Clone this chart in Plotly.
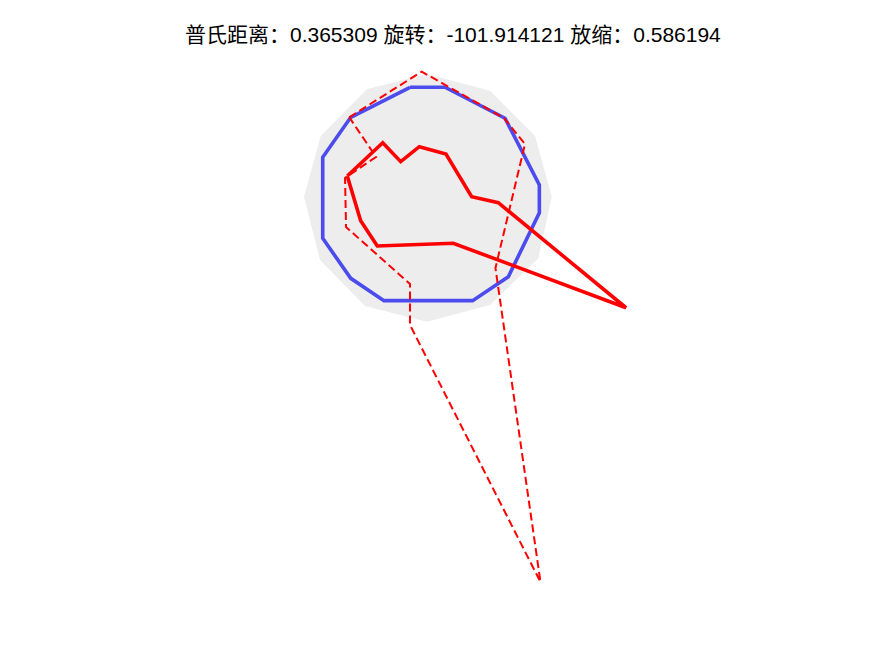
import plotly.graph_objects as go

# Target shape (gray filled 12-gon)
gray_x = [-0.494, -0.010, 0.500, 0.863, 0.998, 0.890, 0.500, -0.010, -0.508, -0.871, -1.000, -0.865]
gray_y = [0.877, 1.000, 0.865, 0.500, 0.010, -0.486, -0.863, -0.998, -0.871, -0.500, 0.010, 0.500]

# Blue polygon
blue_x = [-0.145, 0.137, 0.621, 0.898, 0.898, 0.648, 0.360, -0.355, -0.623, -0.849, -0.849, -0.623]
blue_y = [0.893, 0.893, 0.643, 0.105, -0.119, -0.635, -0.828, -0.828, -0.648, -0.325, 0.328, 0.651]

# Transformed shape (red solid)
red_x = [-0.651, -0.365, -0.220, -0.070, 0.145, 0.352, 0.567, 1.597, 0.204, -0.409, -0.543]
red_y = [0.177, 0.446, 0.293, 0.414, 0.355, 0.010, -0.038, -0.885, -0.365, -0.387, -0.183]

# Original shape (red dashed)
orig_x = [-0.635, -0.051, 0.613, 0.782, 0.544, 0.907, -0.145, -0.145, -0.661, -0.669, -0.419]
orig_y = [0.651, 1.019, 0.645, 0.435, -0.565, -3.097, -1.024, -0.694, -0.234, 0.161, 0.331]

title_text = "普氏距离：0.365309 旋转：-101.914121 放缩：0.586194"

def closed(v):
    return list(v) + [v[0]]

fig = go.Figure()
fig.add_trace(go.Scatter(x=closed(gray_x), y=closed(gray_y), mode="lines",
                         fill="toself", fillcolor="#EDEDED",
                         line=dict(width=0, color="#EDEDED"), hoverinfo="skip"))
fig.add_trace(go.Scatter(x=closed(blue_x), y=closed(blue_y), mode="lines",
                         line=dict(color="#4B4BEE", width=3.6)))
fig.add_trace(go.Scatter(x=closed(orig_x), y=closed(orig_y), mode="lines",
                         line=dict(color="#FF0000", width=2, dash="8px,4px")))
fig.add_trace(go.Scatter(x=closed(red_x), y=closed(red_y), mode="lines",
                         line=dict(color="#FF0000", width=3.6)))

fig.update_layout(
    width=875, height=656,
    margin=dict(l=0, r=0, t=0, b=0),
    paper_bgcolor="white", plot_bgcolor="white",
    showlegend=False,
    xaxis=dict(range=[(8-428)/124, (883-428)/124], visible=False, fixedrange=True),
    yaxis=dict(range=[(198-664)/124, (198-8)/124], visible=False, fixedrange=True),
    annotations=[dict(text=title_text, x=445/875, y=1-27/656, xref="paper", yref="paper",
                      xanchor="center", yanchor="middle", showarrow=False,
                      font=dict(family="Liberation Sans, Noto Sans CJK SC, sans-serif",
                                size=21, color="#000000"))],
)
fig.write_html("out.html")
